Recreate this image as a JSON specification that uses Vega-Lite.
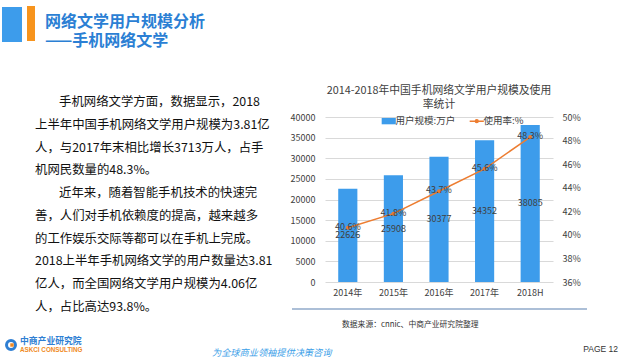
{
  "$schema": "https://vega.github.io/schema/vega-lite/v6.json",
  "padding": 0,
  "background": "white",
  "spacing": 0,
  "bounds": "flush",
  "config": {
    "view": {"stroke": null},
    "font": "Noto Sans CJK SC",
    "text": {"font": "Noto Sans CJK SC"},
    "axis": {"labelFont": "Noto Sans CJK SC"},
    "legend": {"labelFont": "Noto Sans CJK SC"},
    "title": {"font": "Noto Sans CJK SC"}
  },
  "datasets": {
    "paragraph": [
      {"line": 1, "text": "手机网络文学方面，数据显示，2018"},
      {"line": 2, "text": "上半年中国手机网络文学用户规模为3.81亿"},
      {"line": 3, "text": "人，与2017年末相比增长3713万人，占手"},
      {"line": 4, "text": "机网民数量的48.3%。"},
      {"line": 5, "text": "近年来，随着智能手机技术的快速完"},
      {"line": 6, "text": "善，人们对手机依赖度的提高，越来越多"},
      {"line": 7, "text": "的工作娱乐交际等都可以在手机上完成。"},
      {"line": 8, "text": "2018上半年手机网络文学的用户数量达3.81"},
      {"line": 9, "text": "亿人，而全国网络文学用户规模为4.06亿"},
      {"line": 10, "text": "人，占比高达93.8%。"}
    ]
  },
  "hconcat": [
    {
      "width": 323,
      "height": 360,
      "layer": [
        {"data": {"values": [{}]}, "mark": {"type": "rect", "color": "#3D9CEB"}, "encoding": {"x": {"value": 0}, "x2": {"value": 20}, "y": {"value": 7}, "y2": {"value": 42}}},
        {"data": {"values": [{}]}, "mark": {"type": "rect", "color": "#F7941D"}, "encoding": {"x": {"value": 25}, "x2": {"value": 33}, "y": {"value": 6}, "y2": {"value": 41}}},
        {"data": {"values": [{"t": "网络文学用户规模分析"}]}, "mark": {"type": "text", "align": "left", "baseline": "middle", "fontSize": 16, "fontWeight": "bold", "color": "#2B7FD4"}, "encoding": {"text": {"field": "t"}, "x": {"value": 43}, "y": {"value": 22}}},
        {"data": {"values": [{"t": "——手机网络文学"}]}, "mark": {"type": "text", "align": "left", "baseline": "middle", "fontSize": 16, "fontWeight": "bold", "color": "#2B7FD4"}, "encoding": {"text": {"field": "t"}, "x": {"value": 43}, "y": {"value": 41}}},
        {
          "data": {"name": "paragraph"},
          "transform": [{"filter": "datum.line === 1 || datum.line === 5"}],
          "mark": {"type": "text", "align": "left", "baseline": "middle", "fontSize": 12.4, "color": "#111111"},
          "encoding": {
            "x": {"value": 57},
            "y": {"field": "line", "type": "quantitative", "scale": {"domain": [1, 10], "range": [102, 307], "nice": false, "zero": false}, "axis": null},
            "text": {"field": "text"}
          }
        },
        {
          "data": {"name": "paragraph"},
          "transform": [{"filter": "datum.line !== 1 && datum.line !== 5"}],
          "mark": {"type": "text", "align": "left", "baseline": "middle", "fontSize": 12.4, "color": "#111111"},
          "encoding": {
            "x": {"value": 33},
            "y": {"field": "line", "type": "quantitative", "scale": {"domain": [1, 10], "range": [102, 307], "nice": false, "zero": false}, "axis": null},
            "text": {"field": "text"}
          }
        },
        {"data": {"values": [{}]}, "mark": {"type": "point", "shape": "circle", "filled": false, "color": "#2F7FD3", "strokeWidth": 3, "size": 80, "opacity": 1}, "encoding": {"x": {"value": 9}, "y": {"value": 345}}},
        {"data": {"values": [{}]}, "mark": {"type": "point", "shape": "square", "filled": true, "color": "#F08A24", "size": 12, "opacity": 1}, "encoding": {"x": {"value": 10}, "y": {"value": 345}}},
        {"data": {"values": [{"t": "中商产业研究院"}]}, "mark": {"type": "text", "align": "left", "baseline": "middle", "fontSize": 8.8, "fontWeight": "bold", "color": "#2F7FD3"}, "encoding": {"text": {"field": "t"}, "x": {"value": 18}, "y": {"value": 341}}},
        {"data": {"values": [{"t": "ASKCI CONSULTING"}]}, "mark": {"type": "text", "align": "left", "baseline": "middle", "fontSize": 6.3, "fontWeight": "bold", "color": "#F08A24", "font": "Liberation Sans"}, "encoding": {"text": {"field": "t"}, "x": {"value": 18}, "y": {"value": 349.5}}},
        {"data": {"values": [{"t": "为全球商业领袖提供决策咨询"}]}, "mark": {"type": "text", "align": "left", "baseline": "middle", "fontSize": 9.2, "fontStyle": "italic", "color": "#3AA0E8"}, "encoding": {"text": {"field": "t"}, "x": {"value": 210}, "y": {"value": 353}}}
      ]
    },
    {
      "spacing": 0,
      "bounds": "flush",
      "vconcat": [
        {
          "width": 302,
          "height": 117,
          "data": {"values": []},
          "mark": {"type": "text"},
          "encoding": {}
        },
        {
          "width": 228,
          "height": 165,
          "title": {"text": ["2014-2018年中国手机网络文学用户规模及使用", "率统计"], "fontSize": 10.8, "fontWeight": "normal", "color": "#404040", "anchor": "middle", "frame": "group", "offset": 3, "lineHeight": 14.5},
          "data": {"values": [
            {"year": "2014年", "users": 22626, "rate": 0.406},
            {"year": "2015年", "users": 25908, "rate": 0.418},
            {"year": "2016年", "users": 30377, "rate": 0.437},
            {"year": "2017年", "users": 34352, "rate": 0.456},
            {"year": "2018H", "users": 38085, "rate": 0.483}
          ]},
          "encoding": {
            "x": {"field": "year", "type": "nominal", "sort": null, "scale": {"paddingInner": 0.58, "paddingOuter": 0.29}, "axis": {"title": null, "labelAngle": 0, "ticks": false, "domain": false, "labelFontSize": 9, "labelColor": "#404040", "labelPadding": 6}}
          },
          "layer": [
            {
              "mark": {"type": "bar"},
              "encoding": {
                "y": {"field": "users", "type": "quantitative", "scale": {"domain": [0, 40000], "nice": false}, "axis": {"orient": "left", "title": null, "values": [0, 5000, 10000, 15000, 20000, 25000, 30000, 35000, 40000], "format": "d", "grid": true, "gridColor": "#D9D9D9", "domain": false, "ticks": false, "labelPadding": 10, "labelFontSize": 9, "labelColor": "#404040"}},
                "color": {"datum": "用户规模:万户", "type": "nominal", "scale": {"domain": ["用户规模:万户", "使用率:%"], "range": ["#3D9CEB", "#ED7D31"]},
                  "legend": {"orient": "none", "legendX": 382, "legendY": 116, "direction": "horizontal", "title": null, "symbolSize": 200, "columnPadding": 10, "labelOffset": 2, "labelFontSize": 9.5, "labelColor": "#404040", "symbolStrokeWidth": 1.5,
                    "encode": {"symbols": {"update": {
                      "shape": {"signal": "datum.value === '使用率:%' ? 'M-1,0L1,0M-0.2,0A0.2,0.2,0,1,1,0.2,0A0.2,0.2,0,1,1,-0.2,0Z' : 'M-1,-0.45L1,-0.45L1,0.45L-1,0.45Z'"},
                      "fill": {"signal": "datum.value === '使用率:%' ? '#ED7D31' : '#3D9CEB'"},
                      "stroke": {"signal": "datum.value === '使用率:%' ? '#ED7D31' : '#3D9CEB'"},
                      "strokeWidth": {"signal": "datum.value === '使用率:%' ? 1.5 : 0"},
                      "opacity": {"value": 1}
                    }}}}}
              }
            },
            {
              "mark": {"type": "text", "fontSize": 9, "color": "#404040", "baseline": "middle"},
              "encoding": {
                "y": {"field": "users", "type": "quantitative", "scale": {"domain": [0, 80000], "nice": false}, "axis": null},
                "text": {"field": "users", "type": "quantitative", "format": "d"}
              }
            },
            {
              "mark": {"type": "line", "strokeWidth": 1.5, "point": {"filled": true, "size": 16}},
              "encoding": {
                "y": {"field": "rate", "type": "quantitative", "scale": {"domain": [0.36, 0.5], "nice": false, "zero": false}, "axis": {"orient": "right", "title": null, "values": [0.36, 0.38, 0.4, 0.42, 0.44, 0.46, 0.48, 0.5], "format": ".0%", "grid": false, "domain": false, "ticks": false, "labelPadding": 9, "labelFontSize": 9, "labelColor": "#404040"}},
                "color": {"datum": "使用率:%", "type": "nominal"}
              }
            },
            {
              "mark": {"type": "text", "fontSize": 9, "color": "#404040", "baseline": "middle", "dy": -1},
              "encoding": {
                "y": {"field": "rate", "type": "quantitative", "scale": {"domain": [0.36, 0.5], "nice": false, "zero": false}, "axis": null},
                "text": {"field": "rate", "type": "quantitative", "format": ".1%"}
              }
            }
          ],
          "resolve": {"scale": {"y": "independent"}}
        },
        {
          "width": 302,
          "height": 78,
          "layer": [
            {"data": {"values": [{}]}, "mark": {"type": "rule", "color": "#5B80B0", "strokeWidth": 1.2}, "encoding": {"x": {"value": -33}, "x2": {"value": 262}, "y": {"value": 27}}},
            {"data": {"values": [{"t": "数据来源：cnnic、中商产业研究院整理"}]}, "mark": {"type": "text", "align": "left", "baseline": "middle", "fontSize": 7.8, "color": "#333333"}, "encoding": {"text": {"field": "t"}, "x": {"value": 17}, "y": {"value": 43}}},
            {"data": {"values": [{"t": "PAGE  12"}]}, "mark": {"type": "text", "align": "right", "baseline": "middle", "fontSize": 8.5, "color": "#333333", "font": "Liberation Sans"}, "encoding": {"text": {"field": "t"}, "x": {"value": 293}, "y": {"value": 67}}}
          ]
        }
      ]
    }
  ]
}
